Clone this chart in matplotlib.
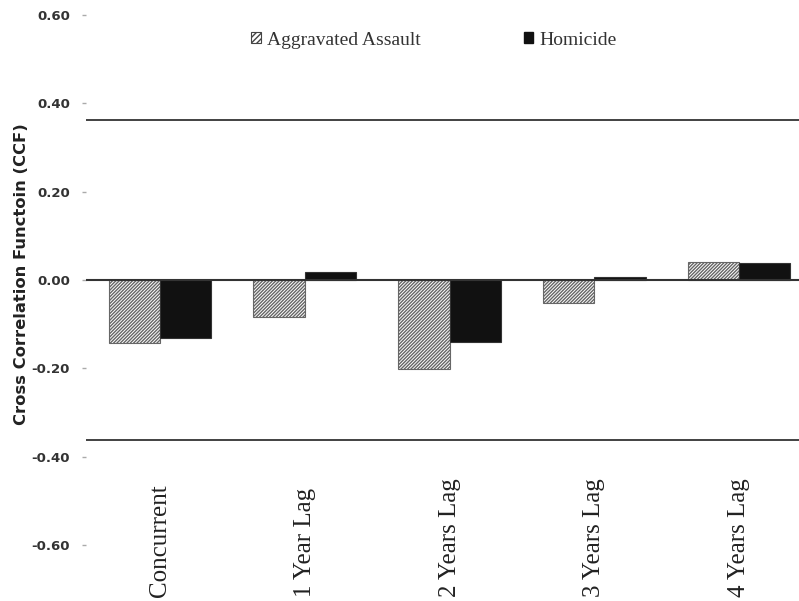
import matplotlib.pyplot as plt
import matplotlib.transforms as mtransforms
import numpy as np
from matplotlib.patches import Patch

categories = ['Concurrent', '1 Year Lag', '2 Years Lag', '3 Years Lag', '4 Years Lag']
assault = [-0.143, -0.084, -0.201, -0.052, 0.041]
homicide = [-0.131, 0.018, -0.141, 0.007, 0.039]
conf_bound = 0.362
y_ticks = [0.60, 0.40, 0.20, 0.00, -0.20, -0.40, -0.60]

plt.rcParams['hatch.linewidth'] = 1.0
plt.rcParams['hatch.color'] = '#4d4d4d'

fig = plt.figure(figsize=(7.99, 6.01), dpi=100)
ax = fig.add_axes([0.1076, 0.0932, 0.8924, 0.882])

x = np.arange(len(categories))
w = 0.355
ax.bar(x - w / 2, assault, w, color='white', edgecolor='#666666', linewidth=0.8,
       hatch='//////////', label='Aggravated Assault')
ax.bar(x + w / 2, homicide, w, color='#111111', edgecolor='#333333', linewidth=0.8,
       label='Homicide')

ax.axhline(0, color='#333333', lw=1.5)
ax.axhline(conf_bound, color='#333333', lw=1.3)
ax.axhline(-conf_bound, color='#333333', lw=1.3)

ax.set_xlim(-0.511, 4.414)
ax.set_ylim(-0.6, 0.6)
ax.set_yticks(y_ticks)
ax.set_yticklabels(['%.2f' % v for v in y_ticks], fontsize=9.5, fontweight='bold',
                   color='#333333', family='DejaVu Sans')
ax.tick_params(axis='y', length=3, width=1, color='#aaaaaa', pad=8.5)
ax.set_xticks([])
for s in ax.spines.values():
    s.set_visible(False)

# category labels sit on the bottom edge of the figure, reading upward
blend = mtransforms.blended_transform_factory(ax.transData, fig.transFigure)
for xi, lab in zip(x, categories):
    ax.text(xi, 0.006, lab, rotation=90, ha='center', va='bottom', fontsize=18,
            family='Liberation Serif', color='#222222', transform=blend)

fig.text(22 / 799, 1 - 274 / 601, 'Cross Correlation Functoin (CCF)', rotation=90,
         ha='center', va='center', fontsize=11.8, fontweight='bold',
         family='DejaVu Sans', color='#222222')

handles = [Patch(facecolor='white', edgecolor='#444444', hatch='//////', linewidth=0.8),
           Patch(facecolor='#111111', edgecolor='#111111')]
fig.legend(handles, ['Aggravated Assault', 'Homicide'], ncol=2, frameon=False,
           loc='center', bbox_to_anchor=(0.543, 0.933),
           prop={'family': 'Liberation Serif', 'size': 14},
           handlelength=0.5, handleheight=0.5, handletextpad=0.3, columnspacing=5.3,
           labelcolor='#333333')

fig.savefig('out.png', dpi=100)
